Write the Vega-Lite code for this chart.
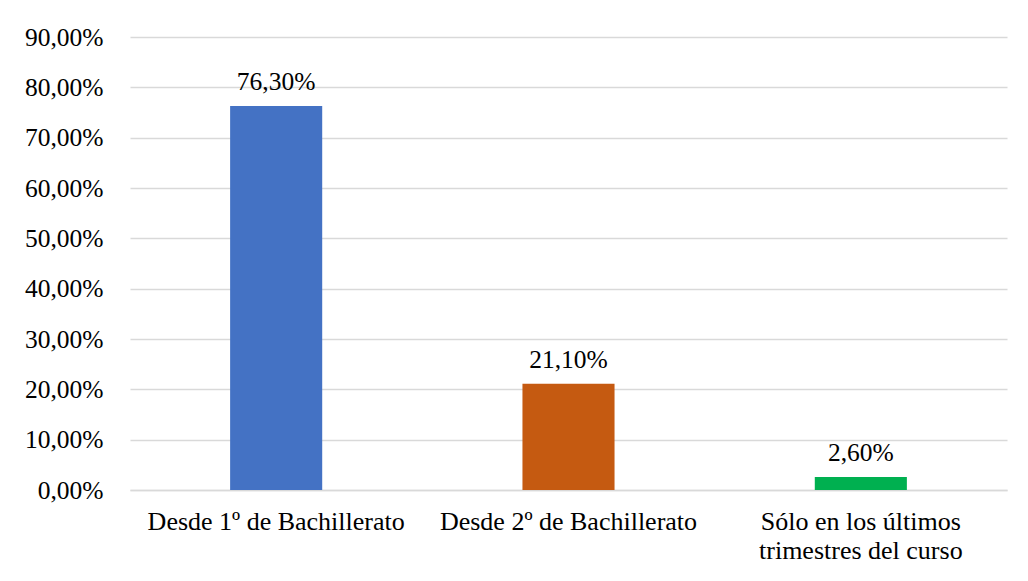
{
  "$schema": "https://vega.github.io/schema/vega-lite/v6.json",
  "width": 877,
  "height": 453,
  "autosize": {"type": "none"},
  "padding": {"left": 130, "top": 37, "right": 21, "bottom": 91},
  "background": "white",
  "config": {
    "locale": {"number": {"decimal": ",", "thousands": ".", "grouping": [3], "currency": ["", " €"]}},
    "font": "Liberation Serif",
    "view": {"stroke": null}
  },
  "data": {
    "values": [
      {"cat": "Desde 1º de Bachillerato", "value": 0.763},
      {"cat": "Desde 2º de Bachillerato", "value": 0.211},
      {"cat": "Sólo en los últimos trimestres del curso", "value": 0.026}
    ]
  },
  "encoding": {
    "x": {
      "field": "cat", "type": "nominal", "sort": null,
      "scale": {"paddingInner": 0.685, "paddingOuter": 0.3425},
      "axis": {
        "title": null, "labelAngle": 0, "ticks": false, "labelLimit": 0,
        "domainColor": "#d9d9d9", "domainWidth": 1.5,
        "labelFont": "Liberation Serif", "labelFontSize": 26, "labelColor": "#000",
        "labelPadding": 18, "labelLineHeight": 29,
        "labelExpr": "datum.label == 'Sólo en los últimos trimestres del curso' ? ['Sólo en los últimos', 'trimestres del curso'] : datum.label"
      }
    },
    "y": {
      "field": "value", "type": "quantitative",
      "scale": {"domain": [0, 0.9], "nice": false},
      "axis": {
        "title": null, "format": ".2%", "values": [0, 0.1, 0.2, 0.3, 0.4, 0.5, 0.6, 0.7, 0.8, 0.9],
        "domain": false, "ticks": false, "gridColor": "#d9d9d9", "gridWidth": 1.3,
        "labelFont": "Liberation Serif", "labelFontSize": 25.5, "labelColor": "#000",
        "labelPadding": 27, "labelLimit": 0
      }
    }
  },
  "layer": [
    {
      "mark": {"type": "bar"},
      "encoding": {
        "color": {
          "field": "cat", "type": "nominal", "legend": null,
          "scale": {"domain": ["Desde 1º de Bachillerato", "Desde 2º de Bachillerato", "Sólo en los últimos trimestres del curso"], "range": ["#4472C4", "#C55A11", "#00B050"]}
        }
      }
    },
    {
      "mark": {"type": "text", "baseline": "alphabetic", "dy": -16, "fontSize": 25.5, "font": "Liberation Serif", "color": "#000"},
      "encoding": {"text": {"field": "value", "type": "quantitative", "format": ".2%"}}
    }
  ]
}
